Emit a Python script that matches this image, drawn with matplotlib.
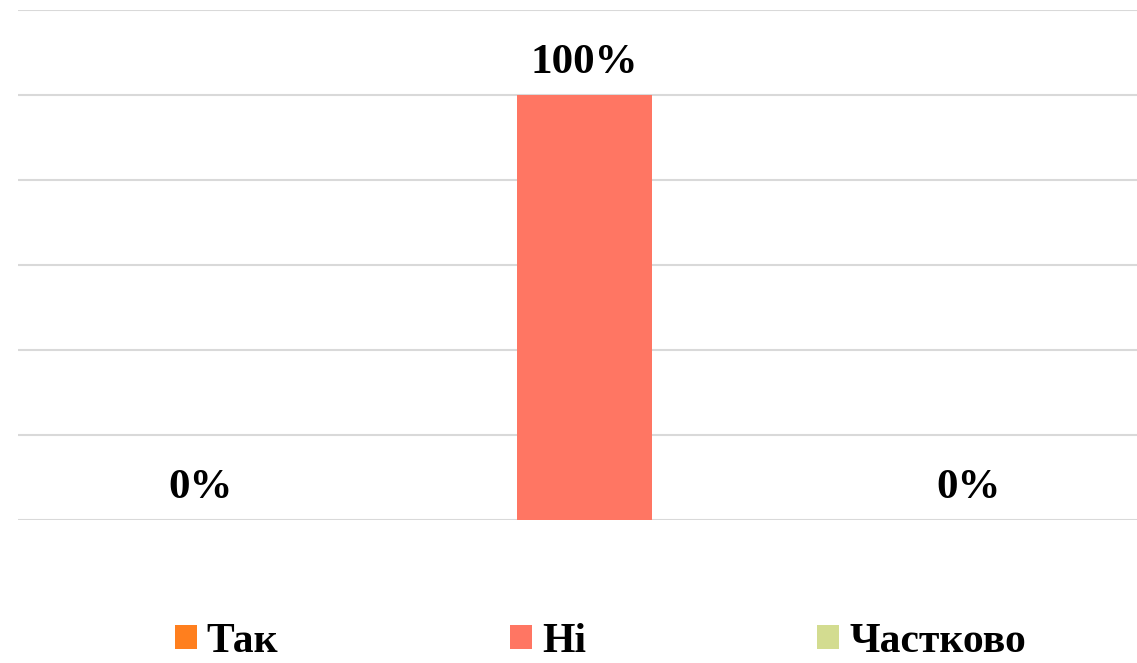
import matplotlib
matplotlib.use('Agg')
from matplotlib import pyplot as plt
from matplotlib.patches import Patch

categorias = ['Так', 'Ні', 'Частково']
valores = [0, 100, 0]
etiquetas = ['0%', '100%', '0%']
colores = ['#FF7F1E', '#FF7663', '#D3DC90']

plt.rcParams['font.family'] = ['Liberation Serif', 'DejaVu Serif']

fig = plt.figure(figsize=(11.37, 6.63), dpi=100)
ax = fig.add_axes([0.0158, 0.2157, 0.9842, 0.7693])

x = [0, 1, 2]
ax.bar(x, valores, width=0.35, color=colores, zorder=2)
for xi, v, et in zip(x, valores, etiquetas):
    ax.annotate(et, (xi, v), xytext=(0, 16), textcoords='offset points',
                ha='center', va='baseline', fontsize=31, fontweight='bold')

ax.set_ylim(0, 120)
ax.set_xlim(-0.477, 2.44)
ax.set_yticks(range(0, 121, 20))
ax.yaxis.grid(True, color='#D9D9D9', linewidth=1.5, zorder=0)
ax.set_xticks([])
ax.tick_params(left=False, labelleft=False)
for s in ax.spines.values():
    s.set_visible(False)

handles = [Patch(facecolor=c) for c in colores]
fig.legend(handles, categorias, loc='center', bbox_to_anchor=(0.528, 0.032),
           ncol=3, frameon=False, handlelength=0.53, handleheight=0.5,
           handletextpad=0.24, columnspacing=5.55, borderpad=0,
           prop={'size': 30, 'weight': 'bold'})

fig.savefig('out.png', dpi=100)
